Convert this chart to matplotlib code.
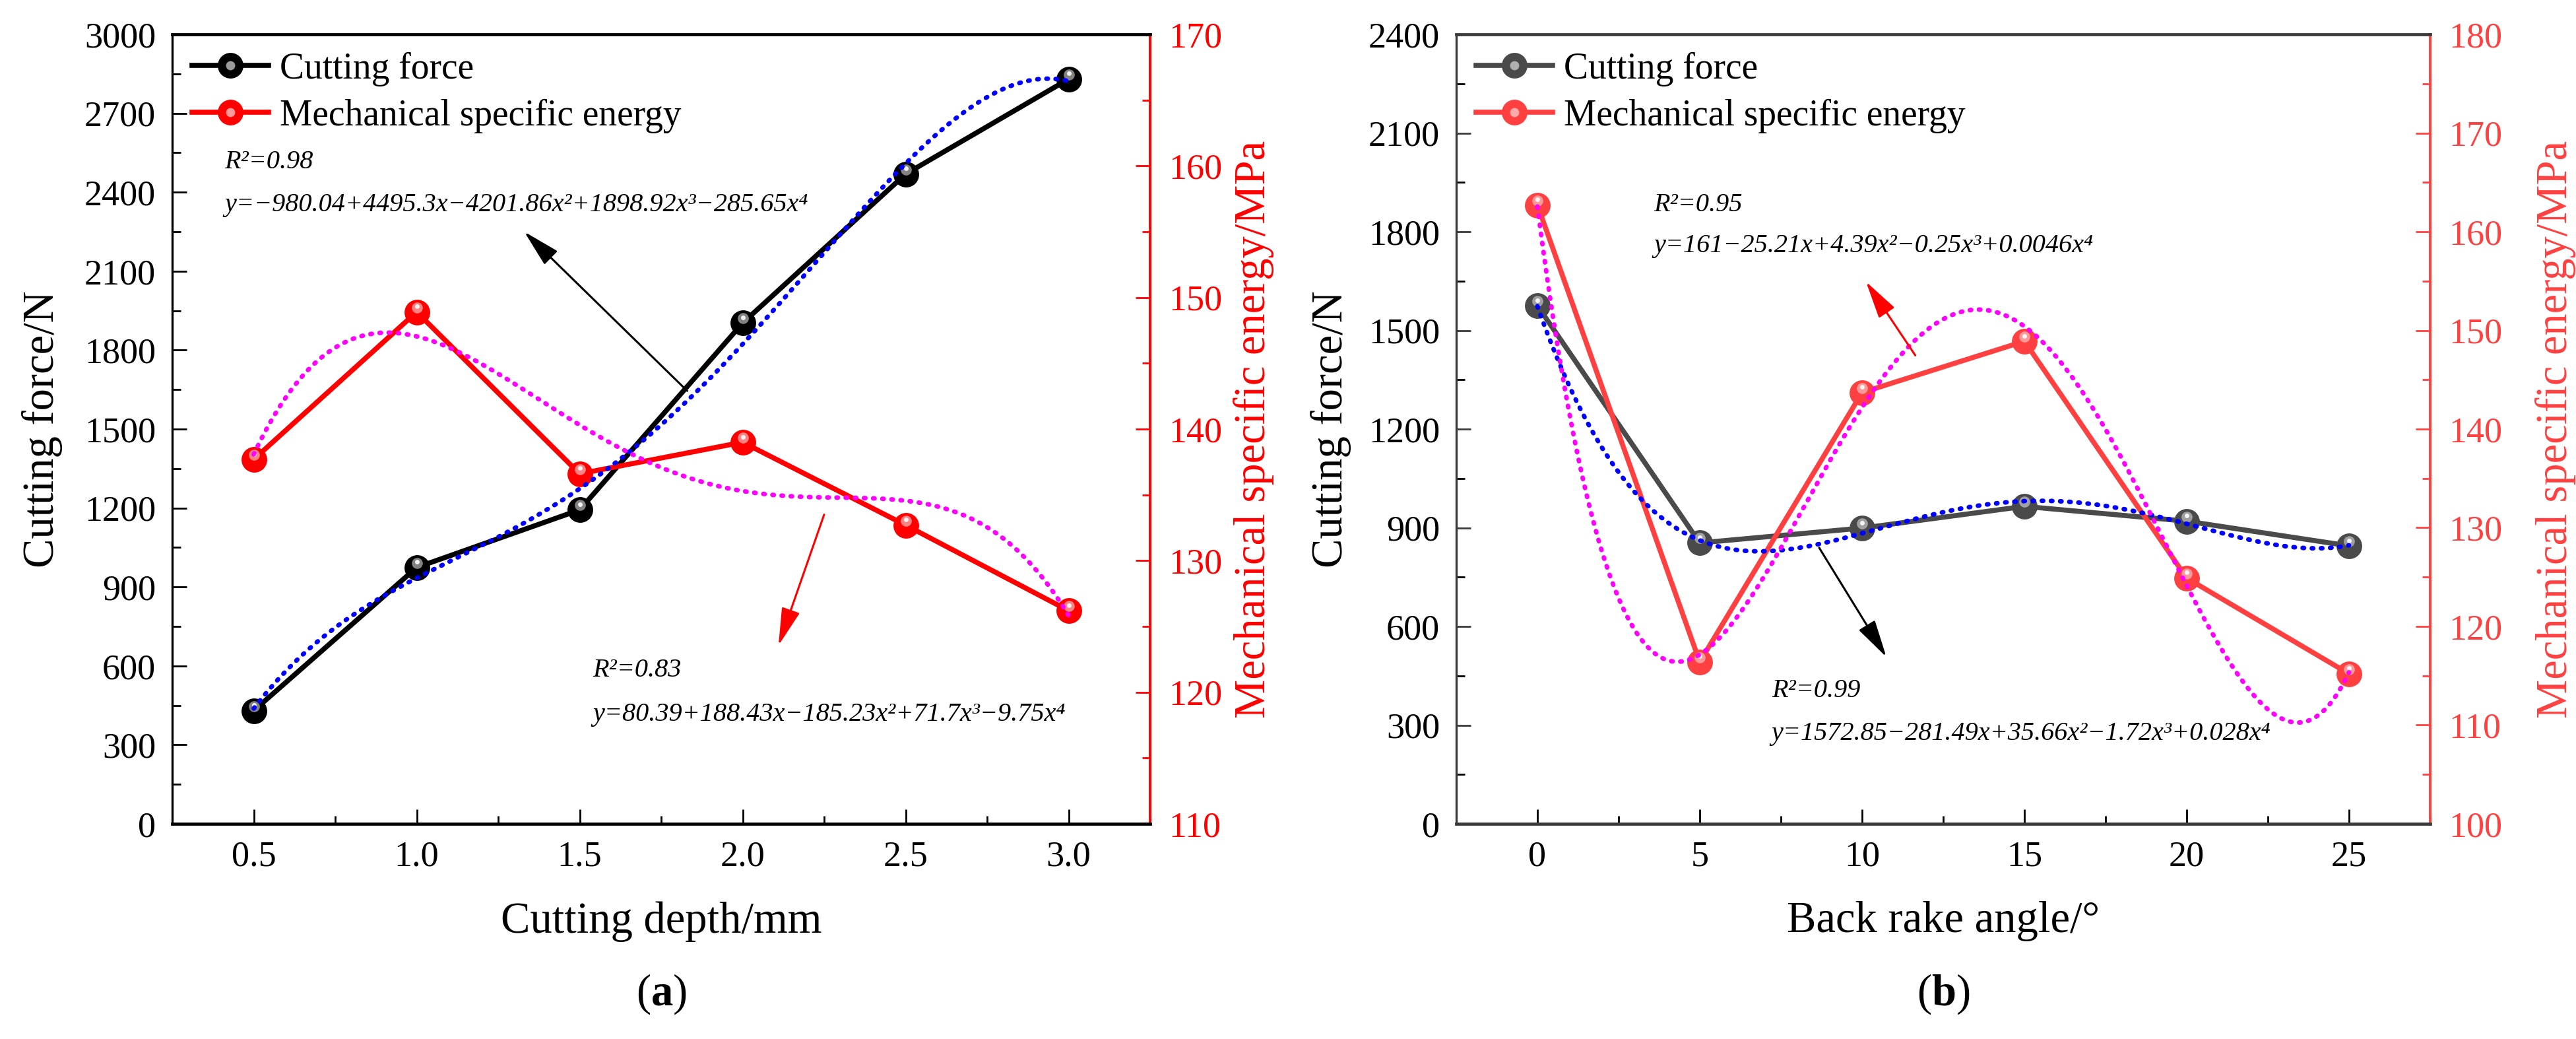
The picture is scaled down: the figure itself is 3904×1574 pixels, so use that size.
import numpy as np
import matplotlib
matplotlib.use('Agg')
import matplotlib.pyplot as plt
from matplotlib.ticker import MultipleLocator, FormatStrFormatter
from matplotlib.transforms import offset_copy
from matplotlib.legend_handler import HandlerTuple
from matplotlib.lines import Line2D

plt.rcParams['font.family'] = ['Liberation Serif', 'DejaVu Serif']
plt.rcParams['mathtext.fontset'] = 'custom'
plt.rcParams['mathtext.rm'] = 'Liberation Serif'
plt.rcParams['mathtext.it'] = 'Liberation Serif:italic'
plt.rcParams['mathtext.bf'] = 'Liberation Serif:bold'

# ---------------- data ----------------
depth = [0.5, 1.0, 1.5, 2.0, 2.5, 3.0]
force_a = [430, 974, 1193, 1903, 2469, 2830]
mse_a = [137.7, 148.9, 136.6, 139.0, 132.7, 126.2]

angle = [0, 5, 10, 15, 20, 25]
force_b = [1575, 854, 899, 965, 920, 845]
mse_b = [162.7, 116.4, 143.7, 148.9, 124.9, 115.2]

legend_labels = ['Cutting force', 'Mechanical specific energy']
xlabels = ['Cutting depth/mm', 'Back rake angle/°']
ylabel_left = 'Cutting force/N'
ylabel_right = 'Mechanical specific energy/MPa'
panel_tags = [r'($\mathbf{a}$)', r'($\mathbf{b}$)']

eq_a_force = ['R²=0.98', 'y=−980.04+4495.3x−4201.86x²+1898.92x³−285.65x⁴']
eq_a_mse = ['R²=0.83', 'y=80.39+188.43x−185.23x²+71.7x³−9.75x⁴']
eq_b_mse = ['R²=0.95', 'y=161−25.21x+4.39x²−0.25x³+0.0046x⁴']
eq_b_force = ['R²=0.99', 'y=1572.85−281.49x+35.66x²−1.72x³+0.028x⁴']

W, H = 3904, 1574
fig = plt.figure(figsize=(W / 100, H / 100), dpi=100)

TICK_FS = 39
LABEL_FS = 48
LEG_FS = 40
EQ_FS = 29
MS = 28
LW = 5.5


def sphere(ax, x, y, color, hl, trans):
    ax.plot(x, y, 'o', ms=MS, color=color, mec=color, mew=0, transform=trans, zorder=5)
    t1 = offset_copy(trans, fig=fig, x=0, y=5, units='points')
    ax.plot(x, y, 'o', ms=12, color=hl, mew=0, alpha=0.85, transform=t1, zorder=6)
    t2 = offset_copy(trans, fig=fig, x=0, y=6, units='points')
    ax.plot(x, y, 'o', ms=5, color='white', mew=0, alpha=0.9, transform=t2, zorder=7)


def panel(rect, x, f, m, cf_col, cf_hl, ms_col, ms_hl, left_col, right_col,
          xlim, ylim1, ylim2, y1maj, y1min, y2maj, y2min, xmaj, xmin, xfmt, xlabel, tag,
          texts, arrows, ylab_l, ylab_r):
    ax1 = fig.add_axes(rect)
    ax2 = ax1.twinx()
    ax1.set_xlim(*xlim)
    ax1.set_ylim(*ylim1)
    ax2.set_ylim(*ylim2)

    # data lines
    ax1.plot(x, f, '-', color=cf_col, lw=LW, zorder=4)
    sphere(ax1, x, f, cf_col, cf_hl, ax1.transData)
    ax2.plot(x, m, '-', color=ms_col, lw=LW, zorder=4)
    sphere(ax2, x, m, ms_col, ms_hl, ax2.transData)

    # polynomial trend lines (4th order fit of the data)
    xs = np.linspace(x[0], x[-1], 400)
    yf = np.polyval(np.polyfit(x, f, 4), xs)
    ym = np.polyval(np.polyfit(x, m, 4), xs)
    ax2.plot(xs, yf, color='#0000ff', lw=5, ls=(0, (0.3, 1.7)),
             dash_capstyle='round', transform=ax1.transData, zorder=8)
    ax2.plot(xs, ym, color='#ff00ff', lw=5, ls=(0, (0.3, 1.7)),
             dash_capstyle='round', zorder=8)
    ax2.set_ylim(*ylim2)

    # ticks
    ax1.xaxis.set_major_locator(MultipleLocator(xmaj))
    ax1.xaxis.set_minor_locator(MultipleLocator(xmin))
    ax1.xaxis.set_major_formatter(FormatStrFormatter(xfmt))
    ax1.yaxis.set_major_locator(MultipleLocator(y1maj))
    ax1.yaxis.set_minor_locator(MultipleLocator(y1min))
    ax2.yaxis.set_major_locator(MultipleLocator(y2maj))
    ax2.yaxis.set_minor_locator(MultipleLocator(y2min))
    ax1.tick_params(axis='both', which='both', direction='in', top=False, right=False)
    ax1.tick_params(axis='both', which='major', length=16, width=2, labelsize=TICK_FS, pad=18)
    ax1.tick_params(axis='both', which='minor', length=9, width=2)
    ax1.tick_params(axis='y', colors=left_col, labelcolor='black')
    ax2.tick_params(axis='y', which='both', direction='in', colors=right_col)
    ax2.tick_params(axis='y', which='major', length=16, width=2, labelsize=TICK_FS, pad=20)
    ax2.tick_params(axis='y', which='minor', length=9, width=2)

    for sp in ['top', 'bottom']:
        ax2.spines[sp].set_linewidth(3.4)
        ax2.spines[sp].set_color(left_col)
    ax2.spines['left'].set_linewidth(2.4)
    ax2.spines['left'].set_color(left_col)
    ax2.spines['right'].set_linewidth(2.8)
    ax2.spines['right'].set_color(right_col)
    for sp in ax1.spines.values():
        sp.set_visible(False)

    ax1.set_xlabel(xlabel, fontsize=LABEL_FS)
    ax1.xaxis.set_label_coords(0.5, -0.098)
    ax1.set_ylabel(ylabel_left, fontsize=LABEL_FS)
    ax1.yaxis.set_label_coords(ylab_l, 0.5)
    ax2.set_ylabel(ylabel_right, fontsize=LABEL_FS, color=right_col)
    ax2.yaxis.set_label_coords(ylab_r, 0.5)

    fig.text(rect[0] + rect[2] / 2, 0.043, tag, fontsize=LABEL_FS, ha='center', va='center')

    # legend
    h1 = (Line2D([], [], color=cf_col, lw=LW, marker='o', ms=MS, mew=0),
          Line2D([], [], ls='none', marker='o', ms=10, color=cf_hl, mew=0))
    h2 = (Line2D([], [], color=ms_col, lw=LW, marker='o', ms=MS, mew=0),
          Line2D([], [], ls='none', marker='o', ms=10, color=ms_hl, mew=0))
    ax2.legend([h1, h2], legend_labels, handler_map={tuple: HandlerTuple(ndivide=1)},
               loc='upper left', bbox_to_anchor=(0.02, 0.978), frameon=False,
               fontsize=LEG_FS, handlelength=2.1, handletextpad=0.3,
               labelspacing=0.34, borderaxespad=0, borderpad=0)

    for (tx, ty, s) in texts:
        ax2.text(tx, ty, s, fontsize=EQ_FS, ha='left', va='center', style='italic',
                 transform=ax1.transData, zorder=9)
    for (x0, y0, x1, y1, c) in arrows:
        ax2.annotate('', xy=(x1, y1), xytext=(x0, y0),
                     xycoords=ax1.transData, textcoords=ax1.transData,
                     arrowprops=dict(arrowstyle='-|>,head_length=1.6,head_width=0.4',
                                     color=c, lw=2.2, shrinkA=0, shrinkB=0,
                                     mutation_scale=22), zorder=9)
    return ax1, ax2


ax_top = 1 - 52 / H
ax_bot = 1 - 1248 / H
hgt = ax_top - ax_bot

panel([261 / W, ax_bot, (1743 - 261) / W, hgt], depth, force_a, mse_a,
      'black', '#9a9a9a', '#ff0000', '#ff9a9a', 'black', '#ff0000',
      (0.25, 3.25), (0, 3000), (110, 170), 300, 150, 10, 5, 0.5, 0.25, '%.1f',
      xlabels[0], panel_tags[0],
      [(0.41, 2514, eq_a_force[0]), (0.41, 2351, eq_a_force[1]),
       (1.54, 582, eq_a_mse[0]), (1.54, 414, eq_a_mse[1])],
      [(1.83, 1645, 1.33, 2250, 'black'), (2.25, 1175, 2.11, 678, '#ff0000')],
      -0.112, 1.085)

panel([2207 / W, ax_bot, (3683 - 2207) / W, hgt], angle, force_b, mse_b,
      '#4a4a4a', '#b0b0b0', '#ff4040', '#ffaaaa', '#3a3a3a', '#ff4040',
      (-2.5, 27.5), (0, 2400), (100, 180), 300, 150, 10, 5, 5, 2.5, '%d',
      xlabels[1], panel_tags[1],
      [(3.59, 1882, eq_b_mse[0]), (3.59, 1756, eq_b_mse[1]),
       (7.21, 404, eq_b_force[0]), (7.21, 273, eq_b_force[1])],
      [(11.64, 1424, 10.12, 1648, '#ff0000'), (8.68, 839, 10.75, 507, 'black')],
      -0.108, 1.108)

fig.savefig('out.png', dpi=100)
